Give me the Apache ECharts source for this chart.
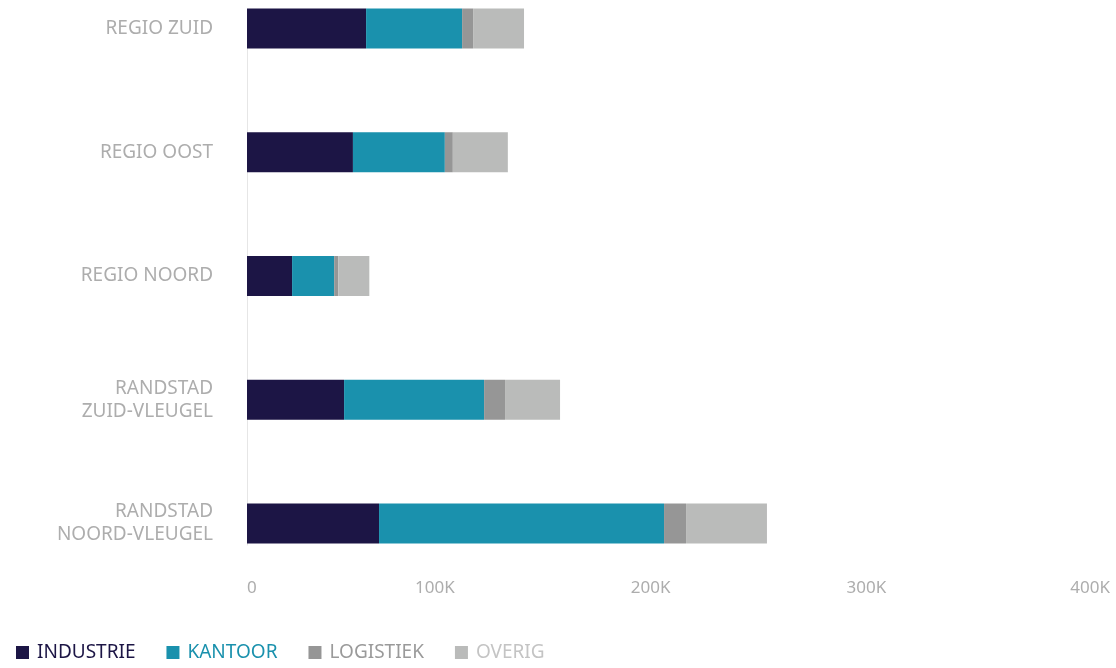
<!DOCTYPE html>
<html>
<head>
<meta charset="utf-8">
<script src="https://cdn.jsdelivr.net/npm/echarts@6/dist/echarts.min.js"></script>
<style>
html,body{margin:0;padding:0;background:#fff;}
#chart{width:1116px;height:668px;}
</style>
</head>
<body>
<div id="chart"></div>
<script>
const categories = ['REGIO ZUID', 'REGIO OOST', 'REGIO NOORD', 'RANDSTAD\nZUID-VLEUGEL', 'RANDSTAD\nNOORD-VLEUGEL'];
const industrie = [55200, 49100, 20900, 45000, 61200];
const kantoor   = [44500, 42600, 19500, 64900, 132100];
const logistiek = [5100, 3700, 1900, 9700, 10200];
const overig    = [23600, 25500, 14400, 25500, 37500];
const seriesNames = ['INDUSTRIE', 'KANTOOR', 'LOGISTIEK', 'OVERIG'];
const xTicks = [0, 100000, 200000, 300000, 400000];

const colors = ['#1c1545', '#1a91ad', '#969696', '#babbba'];
const legendTextColors = ['#1c1545', '#1a91ad', '#9a9a9a', '#c4c4c4'];
const FONT = 'Noto Sans';
const labelColor = '#adadad';

const chart = echarts.init(document.getElementById('chart'), null, {renderer: 'canvas'});
const values = [industrie, kantoor, logistiek, overig];
const xMax = xTicks[xTicks.length - 1];

chart.setOption({
  animation: false,
  color: colors,
  textStyle: {fontFamily: FONT},
  legend: {
    left: 16,
    top: 643,
    padding: 0,
    itemWidth: 13,
    itemHeight: 13,
    itemGap: 31,
    icon: 'rect',
    data: seriesNames.map((n, i) => ({name: n, textStyle: {color: legendTextColors[i]}})),
    textStyle: {fontSize: 19, fontFamily: FONT, padding: [0, 0, 0, 3]}
  },
  grid: [
    {left: 247, right: 6, top: 28.5, height: 495, containLabel: false},
    {left: 247, right: 6, top: 10, height: 535, containLabel: false}
  ],
  xAxis: [
    {
      type: 'value', gridIndex: 0,
      min: xTicks[0], max: xMax, interval: xTicks[1] - xTicks[0],
      splitLine: {show: false}, axisLine: {show: false}, axisTick: {show: false},
      axisLabel: {
        color: labelColor, fontSize: 17, fontFamily: FONT,
        align: 'right', alignMinLabel: 'left', verticalAlign: 'middle', margin: 64.5,
        formatter: v => {
          if (v === 0) return '0';
          const t = (v / 1000) + 'K';
          return v === xMax ? t : '{m|' + t + '}';
        },
        rich: {m: {color: labelColor, fontSize: 17, fontFamily: FONT, padding: [0, 8, 0, 0]}}
      }
    },
    {type: 'value', gridIndex: 1, show: false}
  ],
  yAxis: [
    {
      type: 'category', gridIndex: 0, data: categories, inverse: true, boundaryGap: false,
      axisLine: {show: false}, axisTick: {show: false}, splitLine: {show: false},
      axisLabel: {color: labelColor, fontSize: 19, fontFamily: FONT, lineHeight: 23, margin: 34, align: 'right'}
    },
    {
      type: 'value', gridIndex: 1, min: 0, max: 1,
      axisLine: {show: true, lineStyle: {color: '#e6e6e6', width: 1}},
      axisTick: {show: false}, axisLabel: {show: false}, splitLine: {show: false}
    }
  ],
  series: seriesNames.map((n, i) => ({
    name: n, type: 'bar', stack: 'total', barWidth: 40, clip: false,
    xAxisIndex: 0, yAxisIndex: 0,
    data: values[i],
    itemStyle: {color: colors[i]}
  }))
});
</script>
</body>
</html>
